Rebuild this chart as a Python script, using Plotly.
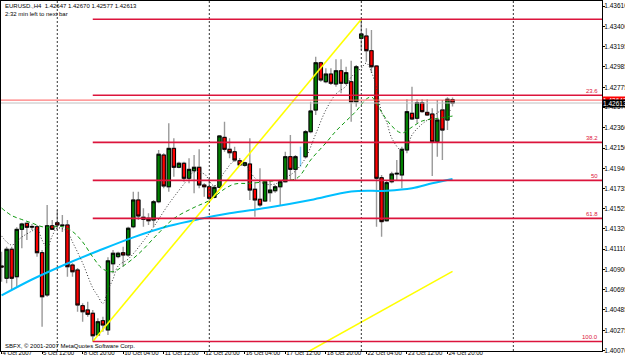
import plotly.graph_objects as go

# ---------------- data ----------------
bar_index = list(range(-11, 79))  # H4 bars, 0 = 8 Oct 2007 00:00

open_ = [1.40937, 1.40811, 1.41109, 1.40827, 1.41314, 1.41376, 1.41343, 1.41341, 1.41074, 1.40639,
         1.41351, 1.41382, 1.41359, 1.41359, 1.40947, 1.40896, 1.40529, 1.40485, 1.40451, 1.40228,
         1.40375, 1.40279, 1.40960, 1.41033, 1.41074, 1.41050, 1.41341, 1.41616, 1.41438, 1.41428,
         1.41410, 1.41598, 1.42078, 1.41752, 1.42147, 1.41952, 1.41993, 1.41839, 1.41917, 1.41952,
         1.41770, 1.41752, 1.41643, 1.41746, 1.42260, 1.42137, 1.42112, 1.42020, 1.41972, 1.41986,
         1.41726, 1.41623, 1.41605, 1.41691, 1.41711, 1.41752, 1.41804, 1.42061, 1.41931, 1.42000,
         1.42061, 1.42318, 1.42541, 1.43027, 1.42832, 1.42911, 1.42808, 1.42945, 1.42816, 1.42832,
         1.42626, 1.43278, 1.43302, 1.43151, 1.42993, 1.41845, 1.41403, 1.41804, 1.41883, 1.41873,
         1.42130, 1.42507, 1.42456, 1.42616, 1.42517, 1.42500, 1.42215, 1.42541, 1.42438, 1.42647]
high = [1.41084, 1.41135, 1.41135, 1.41335, 1.41382, 1.41382, 1.41369, 1.41359, 1.41102, 1.41564,
        1.41410, 1.41513, 1.41461, 1.41410, 1.40965, 1.40917, 1.40554, 1.40570, 1.40485, 1.40399,
        1.40416, 1.41026, 1.41102, 1.41084, 1.41135, 1.41341, 1.41701, 1.41701, 1.41530, 1.41479,
        1.41616, 1.42130, 1.42096, 1.42404, 1.42250, 1.42009, 1.42009, 1.42044, 1.42078, 1.42137,
        1.41787, 1.41839, 1.41770, 1.42284, 1.42421, 1.42250, 1.42164, 1.42047, 1.42009, 1.42250,
        1.41804, 1.41942, 1.41821, 1.41804, 1.41770, 1.41821, 1.42112, 1.42284, 1.42078, 1.42164,
        1.42335, 1.42626, 1.43089, 1.43038, 1.42970, 1.42970, 1.43062, 1.43062, 1.42986, 1.43048,
        1.43004, 1.43474, 1.43381, 1.43364, 1.43004, 1.41873, 1.41821, 1.41907, 1.42027, 1.42164,
        1.42651, 1.42781, 1.42651, 1.42651, 1.42651, 1.42559, 1.42644, 1.42644, 1.42672, 1.42670]
low = [1.40776, 1.40759, 1.40690, 1.40724, 1.41119, 1.41204, 1.41307, 1.41033, 1.40313, 1.40621,
       1.41307, 1.41307, 1.41287, 1.40827, 1.40827, 1.40467, 1.40364, 1.40416, 1.40161, 1.40217,
       1.40262, 1.40228, 1.40862, 1.41016, 1.40930, 1.41033, 1.41325, 1.41410, 1.41341, 1.41359,
       1.41341, 1.41582, 1.41736, 1.41701, 1.41855, 1.41942, 1.41804, 1.41787, 1.41685, 1.41736,
       1.41650, 1.41616, 1.41633, 1.41736, 1.42112, 1.42044, 1.42009, 1.41965, 1.41958, 1.41616,
       1.41444, 1.41547, 1.41598, 1.41598, 1.41691, 1.41564, 1.41794, 1.41821, 1.41821, 1.41958,
       1.42044, 1.42301, 1.42490, 1.42832, 1.42816, 1.42798, 1.42781, 1.42713, 1.42798, 1.42421,
       1.42575, 1.43158, 1.43038, 1.42922, 1.41341, 1.41238, 1.41393, 1.41787, 1.41821, 1.41736,
       1.42096, 1.42438, 1.42404, 1.42513, 1.42479, 1.41862, 1.42061, 1.42027, 1.42335, 1.42577]
close = [1.40927, 1.41109, 1.40811, 1.41314, 1.41369, 1.41335, 1.41338, 1.41074, 1.40621, 1.41351,
         1.41314, 1.41359, 1.41353, 1.40930, 1.40878, 1.40536, 1.40467, 1.40440, 1.40220, 1.40364,
         1.40330, 1.40990, 1.41068, 1.41068, 1.41050, 1.41325, 1.41616, 1.41451, 1.41417, 1.41403,
         1.41598, 1.42086, 1.41760, 1.42147, 1.41952, 1.41993, 1.41839, 1.41931, 1.41952, 1.41770,
         1.41752, 1.41633, 1.41746, 1.42274, 1.42137, 1.42102, 1.42027, 1.41976, 1.41999, 1.41718,
         1.41616, 1.41564, 1.41804, 1.41718, 1.41752, 1.41804, 1.42061, 1.41931, 1.42061, 1.42130,
         1.42318, 1.42531, 1.43027, 1.42850, 1.42911, 1.42816, 1.42945, 1.42816, 1.42925, 1.42626,
         1.42986, 1.43323, 1.43151, 1.42986, 1.41839, 1.41393, 1.41794, 1.41883, 1.41890, 1.42137,
         1.42524, 1.42449, 1.42616, 1.42524, 1.42490, 1.42215, 1.42438, 1.42335, 1.42651, 1.42613]

highlight_bar = 48  # drawn in light blue

blue_ma_bars = [-11, -5, 2, 8, 15, 22, 28, 34, 42, 50, 58, 65, 70, 74, 78]
blue_ma = [1.40634, 1.40798, 1.40963, 1.41091, 1.41232, 1.41348, 1.41420, 1.41479, 1.41541,
           1.41616, 1.41703, 1.41711, 1.41736, 1.41787, 1.41832]

green_ma_bars = [-11, -9, -7, -5, -3, -1, 1, 3, 5, 7, 9, 11, 13, 16, 20, 23, 27, 30, 33, 35,
                 38, 43, 47, 48, 50, 53, 55, 57, 59, 61, 62, 63, 64, 66, 68, 70, 72, 75, 78]
green_ma = [1.41533, 1.41456, 1.41415, 1.41379, 1.41341, 1.41338, 1.41343, 1.41292, 1.41184, 1.41030,
            1.40906, 1.40878, 1.40937, 1.41060, 1.41276, 1.41425, 1.41539, 1.41611, 1.41729, 1.41780,
            1.41787, 1.41814, 1.41832, 1.41873, 1.42027, 1.42202, 1.42325, 1.42428, 1.42531, 1.42654,
            1.42675, 1.42613, 1.42520, 1.42377, 1.42305, 1.42366, 1.42428, 1.42454, 1.42479]

dotted_ma_bars = [-11, -9, -7, -5, -4, -3, -2, -1, 0, 2, 3, 5, 7, 8, 9, 10, 11, 12, 14, 17,
                  19, 22, 25, 27, 29, 31, 33, 35, 37, 39, 41, 43, 45, 47, 49, 51, 53, 55, 57, 58,
                  60, 61, 62, 63, 64, 65, 66, 68, 69, 70, 72, 74, 76, 78]
dotted_ma = [1.41246, 1.41153, 1.41235, 1.41297, 1.41318, 1.41204, 1.41127, 1.41246, 1.41328, 1.41287,
             1.41184, 1.40968, 1.40711, 1.40629, 1.40552, 1.40690, 1.40803, 1.40937, 1.41009, 1.41194,
             1.41338, 1.41575, 1.41780, 1.41904, 1.41883, 1.41760, 1.41904, 1.42017, 1.41986, 1.41842,
             1.41780, 1.41780, 1.41842, 1.41914, 1.42048, 1.42294, 1.42541, 1.42706, 1.42788, 1.42880,
             1.42973, 1.43024, 1.42932, 1.42767, 1.42520, 1.42418, 1.42253, 1.42120, 1.42150, 1.42284,
             1.42397, 1.42469, 1.42541, 1.42531]

fib_start_bar = 7
fib_low = 1.40161
fib_high = 1.43474
fib_levels = [0.0, 23.6, 38.2, 50.0, 61.8, 100.0]
fib_labels = ["", "23.6", "38.2", "50", "61.8", "100.0"]

trend1_bars = [7, 60]
trend1_prices = [1.40161, 1.43474]
trend2_bars = [48, 78]
trend2_prices = [1.40012, 1.40882]

bid = 1.42613
ask = 1.42643

week_separators = [0, 30, 60, 90]

x_tick_bars = [-11, -3, 5, 13, 21, 29, 37, 45, 53, 61, 69, 77]
x_tick_labels = ["4 Oct 2007", "5 Oct 12:00", "8 Oct 20:00", "10 Oct 04:00", "11 Oct 12:00",
                 "12 Oct 20:00", "16 Oct 04:00", "17 Oct 12:00", "18 Oct 20:00", "22 Oct 04:00",
                 "23 Oct 12:00", "24 Oct 20:00"]
y_tick_values = [1.43610, 1.43400, 1.43195, 1.42985, 1.42775, 1.42570, 1.42360, 1.42150, 1.41940,
                 1.41735, 1.41525, 1.41320, 1.41110, 1.40900, 1.40695, 1.40485, 1.40275, 1.40070]
y_tick_labels = [f"{v:.5f}" for v in y_tick_values]

symbol = "EURUSD.,H4"
timer_text = "2:32 min left to next bar"
copyright_text = "SBFX, \u00a9 2001-2007 MetaQuotes Software Corp."

x_range = [-11.11, 107.5]
y_range = [1.40063, 1.43662]

FONT = "Liberation Sans Narrow, Liberation Sans, Arial, sans-serif"
FS = 6

# ---------------- figure ----------------
fig = go.Figure()

keep = [i for i, b in enumerate(bar_index) if b != highlight_bar]
xs = [bar_index[i] for i in keep]
o = [open_[i] for i in keep]
h = [high[i] for i in keep]
l = [low[i] for i in keep]
c = [close[i] for i in keep]
body_top = [max(a, b) for a, b in zip(o, c)]
body_bot = [min(a, b) for a, b in zip(o, c)]

# wicks (grey)
fig.add_trace(go.Candlestick(
    x=xs, open=o, high=h, low=l, close=c,
    increasing=dict(line=dict(color="#9a9a9a", width=1.4), fillcolor="#9a9a9a"),
    decreasing=dict(line=dict(color="#9a9a9a", width=1.4), fillcolor="#9a9a9a"),
    showlegend=False, hoverinfo="skip"))
# bodies
fig.add_trace(go.Candlestick(
    x=xs, open=o, high=body_top, low=body_bot, close=c,
    increasing=dict(line=dict(color="#000000", width=1), fillcolor="#008000"),
    decreasing=dict(line=dict(color="#000000", width=1), fillcolor="#ff0000"),
    showlegend=False, hoverinfo="skip"))

hb = bar_index.index(highlight_bar)
fig.add_trace(go.Scatter(x=[highlight_bar, highlight_bar], y=[low[hb], high[hb]], mode="lines",
                         line=dict(color="#7fd0ff", width=1.5), showlegend=False, hoverinfo="skip"))

fig.add_trace(go.Scatter(x=blue_ma_bars, y=blue_ma, mode="lines", line_shape="spline",
                         line=dict(color="#00bfff", width=2), showlegend=False, hoverinfo="skip"))
fig.add_trace(go.Scatter(x=green_ma_bars, y=green_ma, mode="lines", line_shape="spline",
                         line=dict(color="#119911", width=1, dash="4px,3px"),
                         showlegend=False, hoverinfo="skip"))
fig.add_trace(go.Scatter(x=dotted_ma_bars, y=dotted_ma, mode="lines", line_shape="spline",
                         line=dict(color="#333333", width=1, dash="1px,2px"),
                         showlegend=False, hoverinfo="skip"))

fig.add_trace(go.Scatter(x=trend1_bars, y=trend1_prices, mode="lines",
                         line=dict(color="#ffff00", width=1.6), showlegend=False, hoverinfo="skip"))
fig.add_trace(go.Scatter(x=trend2_bars, y=trend2_prices, mode="lines",
                         line=dict(color="#ffff00", width=1.6), showlegend=False, hoverinfo="skip"))

shapes = []
for b in week_separators:
    shapes.append(dict(type="line", xref="x", yref="paper", x0=b, x1=b, y0=0, y1=1,
                       line=dict(color="#333333", width=1, dash="2px,2px")))
annotations = []
for lvl, lab in zip(fib_levels, fib_labels):
    price = fib_high - (fib_high - fib_low) * lvl / 100.0
    shapes.append(dict(type="line", xref="x", yref="y", x0=fib_start_bar, x1=x_range[1],
                       y0=price, y1=price, line=dict(color="#dc143c", width=1.6)))
    if lab:
        annotations.append(dict(xref="paper", yref="y", x=0.997, y=price, text=lab,
                                showarrow=False, xanchor="right", yanchor="bottom", yshift=-1,
                                font=dict(family=FONT, size=FS, color="#dc143c")))
shapes.append(dict(type="line", xref="paper", yref="y", x0=0, x1=1, y0=ask, y1=ask,
                   line=dict(color="#ff5a5a", width=1)))
shapes.append(dict(type="line", xref="paper", yref="y", x0=0, x1=1, y0=bid, y1=bid,
                   line=dict(color="#c0c0c0", width=1)))

annotations.append(dict(xref="paper", yref="y", x=1.0, y=ask, text=f"{ask:.5f}", showarrow=False,
                        xanchor="left", yanchor="middle", xshift=0, bgcolor="#ff0000", borderpad=0,
                        font=dict(family=FONT, size=6.5, color="#ffffff")))
annotations.append(dict(xref="paper", yref="y", x=1.0, y=bid, text=f"{bid:.5f}", showarrow=False,
                        xanchor="left", yanchor="middle", xshift=0, bgcolor="#000000", borderpad=0,
                        font=dict(family=FONT, size=6.5, color="#ffffff")))

title_line = f"{symbol}  {open_[-1]:.5f} {high[-1]:.5f} {low[-1]:.5f} {close[-1]:.5f}"
annotations.append(dict(xref="paper", yref="paper", x=0.003, y=0.986, text=title_line,
                        showarrow=False, xanchor="left", yanchor="middle",
                        font=dict(family=FONT, size=FS, color="#000000")))
annotations.append(dict(xref="paper", yref="paper", x=0.003, y=0.963, text=timer_text,
                        showarrow=False, xanchor="left", yanchor="middle",
                        font=dict(family=FONT, size=FS, color="#000000")))
annotations.append(dict(xref="paper", yref="paper", x=0.003, y=0.015, text=copyright_text,
                        showarrow=False, xanchor="left", yanchor="middle",
                        font=dict(family=FONT, size=FS, color="#000000")))

fig.update_layout(
    template="none",
    width=625, height=362,
    margin=dict(l=1, r=23, t=1, b=11, pad=0),
    paper_bgcolor="#ffffff", plot_bgcolor="#ffffff",
    boxgap=0.35, boxgroupgap=0,
    showlegend=False,
    shapes=shapes, annotations=annotations,
    xaxis=dict(range=x_range, rangeslider=dict(visible=False), tickmode="array",
               tickvals=x_tick_bars, ticktext=x_tick_labels, ticks="outside", ticklen=2,
               tickcolor="#000000", showgrid=False, zeroline=False, showline=True, mirror=True,
               linecolor="#000000", linewidth=1, automargin=False, tickangle=0,
               ticklabelposition="outside right", ticklabelstandoff=-4,
               tickfont=dict(family=FONT, size=FS, color="#000000")),
    yaxis=dict(range=y_range, side="right", tickmode="array", tickvals=y_tick_values,
               ticktext=y_tick_labels, ticks="outside", ticklen=2, tickcolor="#000000",
               showgrid=False, zeroline=False, showline=True, mirror=True,
               linecolor="#000000", linewidth=1, automargin=False, ticklabelstandoff=-2,
               tickfont=dict(family=FONT, size=6.5, color="#000000")),
)

fig.write_html("out.html")
